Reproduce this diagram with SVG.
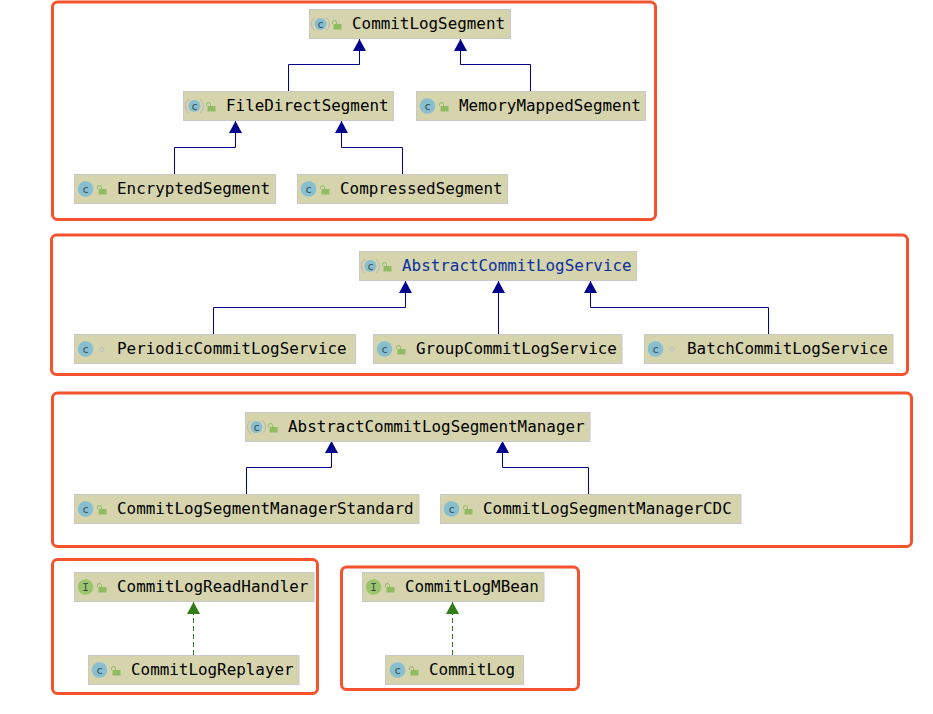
<svg xmlns="http://www.w3.org/2000/svg" width="933" height="714" viewBox="0 0 933 714">
<style>
.frame{fill:none;stroke:#f4532d;stroke-width:3}
.box{fill:#d6d4ad;stroke:#c8c8c8;stroke-width:1}
.t{font-family:"DejaVu Sans Mono",monospace;font-size:15.9px;fill:#000}
.abs{fill:#0a2f9e}
.glyph{font-family:"DejaVu Sans Mono",monospace;font-size:11px;fill:#3a4a50;text-anchor:middle}
.e{fill:none;stroke:#00008b;stroke-width:1}
.d{fill:none;stroke:#2f7d14;stroke-width:1;stroke-dasharray:5 3}
.lock{fill:#8fbb62}
.ring{fill:none;stroke:#b5b5b5;stroke-width:1}
.dot{fill:none;stroke:#b9c3c3;stroke-width:1}
</style>
<defs>
<marker id="ah" markerUnits="userSpaceOnUse" markerWidth="13" markerHeight="13" refX="12" refY="6.500" orient="auto"><path d="M0,0L12,6.500L0,13Z" fill="#00008b"/></marker>
<marker id="ag" markerUnits="userSpaceOnUse" markerWidth="13" markerHeight="13" refX="12" refY="6.500" orient="auto"><path d="M0,0L12,6.500L0,13Z" fill="#2f7d14"/></marker>
<g id="c"><circle cx="11.500" cy="15" r="7.800" fill="#87bfd0"/><text x="11.500" y="18.500" class="glyph">c</text></g>
<g id="ca"><circle cx="11.500" cy="15" r="6" fill="#87bfd0"/><path d="M6,8.300A8.200,8.200,0,0,0,6,21.700M17,8.300A8.200,8.200,0,0,1,17,21.700" class="ring"/><text x="11.500" y="18.500" class="glyph">c</text></g>
<g id="i"><circle cx="11.500" cy="15" r="7.800" fill="#9cc46c"/><text x="11.500" y="18.500" class="glyph">I</text></g>
<g id="l"><path class="lock" d="M25.500,15h7v5.500h-8v-5.500z"/><path d="M23.500,15v-1.500q0,-2,2,-2t2,2v1.500" fill="none" stroke="#8fbb62"/></g>
<g id="o"><circle cx="28" cy="15.500" r="2" class="dot"/></g>
</defs>

<g id="frames">
<rect class="frame" x="52.500" y="2" width="603" height="217.500" rx="5"/>
<rect class="frame" x="51.500" y="235" width="856" height="139.500" rx="5"/>
<rect class="frame" x="52.500" y="393" width="859" height="153.500" rx="5"/>
<rect class="frame" x="52.500" y="559.500" width="265" height="134" rx="5"/>
<rect class="frame" x="341.500" y="567" width="237" height="122.500" rx="5"/>
</g>

<g id="connectors">
<path class="e" marker-end="url(#ah)" d="M288.500,91V64.500H359.500V39"/>
<path class="e" marker-end="url(#ah)" d="M530.500,91V64.500H460.500V39"/>
<path class="e" marker-end="url(#ah)" d="M174.500,174V147.500H235.500V121"/>
<path class="e" marker-end="url(#ah)" d="M402.500,174V147.500H341.500V121"/>
<path class="e" marker-end="url(#ah)" d="M213.500,334V307.500H405.500V281"/>
<path class="e" marker-end="url(#ah)" d="M498.500,334V281"/>
<path class="e" marker-end="url(#ah)" d="M768.500,334V307.500H590.500V281"/>
<path class="e" marker-end="url(#ah)" d="M246.500,494V467.500H331.500V441"/>
<path class="e" marker-end="url(#ah)" d="M588.500,494V467.500H502.500V441"/>
<path class="d" marker-end="url(#ag)" d="M193.500,655V602"/>
<path class="d" marker-end="url(#ag)" d="M452.500,655V602"/>
</g>

<g id="CommitLogSegment" transform="translate(309,9)"><rect class="box" x="0.500" y="0.500" width="201" height="29"/><use href="#ca"/><use href="#l"/><text class="t" x="43" y="20">CommitLogSegment</text></g>
<g id="FileDirectSegment" transform="translate(183,91)"><rect class="box" x="0.500" y="0.500" width="210" height="29"/><use href="#ca"/><use href="#l"/><text class="t" x="43" y="20">FileDirectSegment</text></g>
<g id="MemoryMappedSegment" transform="translate(416,91)"><rect class="box" x="0.500" y="0.500" width="229" height="29"/><use href="#c"/><use href="#l"/><text class="t" x="43" y="20">MemoryMappedSegment</text></g>
<g id="EncryptedSegment" transform="translate(74,174)"><rect class="box" x="0.500" y="0.500" width="201" height="29"/><use href="#c"/><use href="#l"/><text class="t" x="43" y="20">EncryptedSegment</text></g>
<g id="CompressedSegment" transform="translate(297,174)"><rect class="box" x="0.500" y="0.500" width="210" height="29"/><use href="#c"/><use href="#l"/><text class="t" x="43" y="20">CompressedSegment</text></g>
<g id="AbstractCommitLogService" transform="translate(359,251)"><rect class="box" x="0.500" y="0.500" width="277" height="29"/><use href="#ca"/><use href="#l"/><text class="t abs" x="43" y="20">AbstractCommitLogService</text></g>
<g id="PeriodicCommitLogService" transform="translate(74,334)"><rect class="box" x="0.500" y="0.500" width="281" height="29"/><use href="#c"/><use href="#o"/><text class="t" x="43" y="20">PeriodicCommitLogService</text></g>
<g id="GroupCommitLogService" transform="translate(373,334)"><rect class="box" x="0.500" y="0.500" width="248.500" height="29"/><use href="#c"/><use href="#l"/><text class="t" x="43" y="20">GroupCommitLogService</text></g>
<g id="BatchCommitLogService" transform="translate(644,334)"><rect class="box" x="0.500" y="0.500" width="248.500" height="29"/><use href="#c"/><use href="#o"/><text class="t" x="43" y="20">BatchCommitLogService</text></g>
<g id="AbstractCommitLogSegmentManager" transform="translate(245,412)"><rect class="box" x="0.500" y="0.500" width="344.500" height="29"/><use href="#ca"/><use href="#l"/><text class="t" x="43" y="20">AbstractCommitLogSegmentManager</text></g>
<g id="CommitLogSegmentManagerStandard" transform="translate(74,494)"><rect class="box" x="0.500" y="0.500" width="344.500" height="29"/><use href="#c"/><use href="#l"/><text class="t" x="43" y="20">CommitLogSegmentManagerStandard</text></g>
<g id="CommitLogSegmentManagerCDC" transform="translate(440,494)"><rect class="box" x="0.500" y="0.500" width="300.500" height="29"/><use href="#c"/><use href="#l"/><text class="t" x="43" y="20">CommitLogSegmentManagerCDC</text></g>
<g id="CommitLogReadHandler" transform="translate(74,572)"><rect class="box" x="0.500" y="0.500" width="239.500" height="29"/><use href="#i"/><use href="#l"/><text class="t" x="43" y="20">CommitLogReadHandler</text></g>
<g id="CommitLogReplayer" transform="translate(88,655)"><rect class="box" x="0.500" y="0.500" width="210.500" height="29"/><use href="#c"/><use href="#l"/><text class="t" x="43" y="20">CommitLogReplayer</text></g>
<g id="CommitLogMBean" transform="translate(362,572)"><rect class="box" x="0.500" y="0.500" width="181.500" height="29"/><use href="#i"/><use href="#l"/><text class="t" x="43" y="20">CommitLogMBean</text></g>
<g id="CommitLog" transform="translate(386,655)"><rect class="box" x="-0.500" y="0.500" width="138" height="29"/><use href="#c"/><use href="#l"/><text class="t" x="43" y="20">CommitLog</text></g>
</svg>
